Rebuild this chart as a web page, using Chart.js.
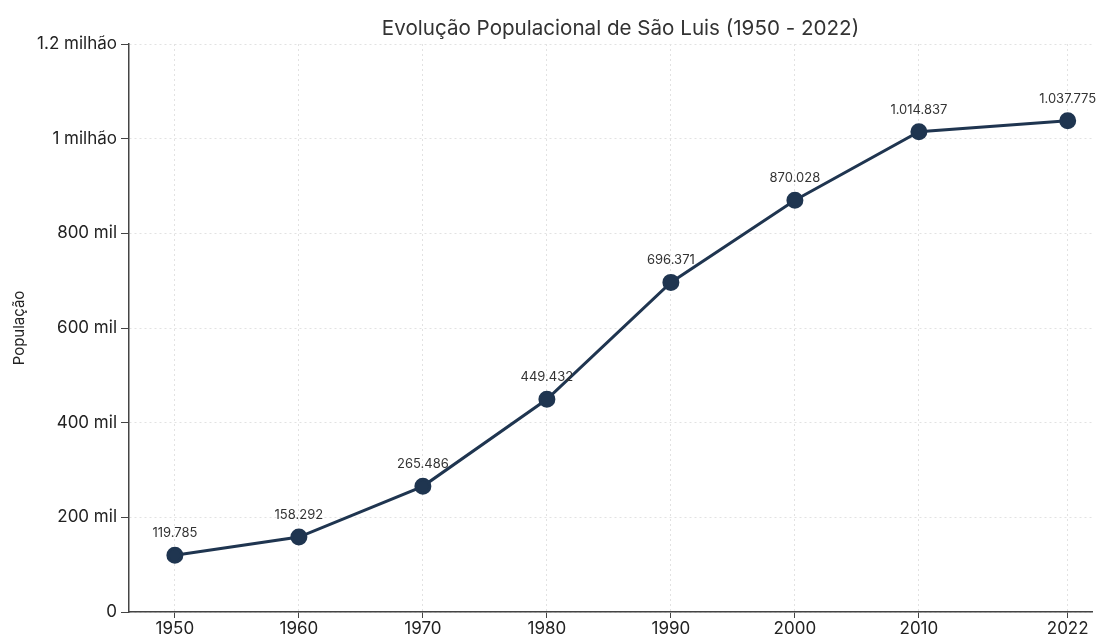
<!DOCTYPE html>
<html>
<head>
<meta charset="utf-8">
<script src="https://cdn.jsdelivr.net/npm/chart.js@4"></script>
<style>
  html, body { margin: 0; padding: 0; background: #fff; overflow: hidden; }
</style>
</head>
<body>
<canvas id="pop" width="1102" height="636"></canvas>
<script>
const years = [1950, 1960, 1970, 1980, 1990, 2000, 2010, 2022];
const population = [119785, 158292, 265486, 449432, 696371, 870028, 1014837, 1037775];
const yTicks = [0, 200000, 400000, 600000, 800000, 1000000, 1200000];
const yTickLabels = ['0', '200 mil', '400 mil', '600 mil', '800 mil', '1 milhão', '1.2 milhão'];
const titleText = 'Evolução Populacional de São Luis (1950 - 2022)';

const fontFamily = 'Inter, "Noto Sans", sans-serif';

function fmt(n) {
  return String(n).replace(/\B(?=(\d{3})+(?!\d))/g, '.');
}

// value labels above each point + title centred over the plot area
const pointLabels = {
  id: 'pointLabels',
  afterDatasetsDraw(chart) {
    const ctx = chart.ctx;
    const meta = chart.getDatasetMeta(0);
    const area = chart.chartArea;
    ctx.save();
    ctx.font = '13px ' + fontFamily;
    ctx.fillStyle = '#333';
    ctx.textAlign = 'center';
    ctx.textBaseline = 'middle';
    meta.data.forEach((pt, i) => {
      ctx.fillText(fmt(population[i]), pt.x, pt.y - 22);
    });
    ctx.font = '20.6px ' + fontFamily;
    ctx.fillStyle = '#333';
    ctx.fillText(titleText, (area.left + area.right) / 2 + 10, 29);
    ctx.restore();
  }
};

new Chart(document.getElementById('pop'), {
  type: 'line',
  data: {
    datasets: [{
      label: 'População',
      data: years.map((y, i) => ({ x: y, y: population[i] })),
      borderColor: '#1f3550',
      backgroundColor: '#1f3550',
      borderWidth: 3,
      pointRadius: 7,
      pointHoverRadius: 7,
      tension: 0
    }]
  },
  options: {
    responsive: false,
    animation: false,
    layout: { padding: { top: 44, right: 0, bottom: 0, left: 0 } },
    plugins: {
      legend: { display: false },
      tooltip: { enabled: false },
      title: { display: false }
    },
    scales: {
      x: {
        type: 'linear',
        min: 1946.3,
        max: 2023.96,
        afterBuildTicks: s => { s.ticks = years.map(v => ({ value: v })); },
        afterFit: s => { s.height = 24; },
        ticks: {
          callback: v => String(v),
          color: '#222',
          font: { family: fontFamily, size: 17 },
          padding: 1,
          maxRotation: 0
        },
        grid: { color: '#e2e2e2', tickColor: '#444', tickLength: 6, tickBorderDash: [] },
        border: { color: '#444', width: 1.5, dash: [2, 3] }
      },
      y: {
        min: 0,
        max: 1200000,
        afterBuildTicks: s => { s.ticks = yTicks.map(v => ({ value: v })); },
        afterFit: s => { s.width = 129; },
        title: {
          display: true,
          text: 'População',
          color: '#222',
          font: { family: fontFamily, size: 15 },
          padding: { top: 10, bottom: 2 }
        },
        ticks: {
          callback: v => yTickLabels[yTicks.indexOf(v)],
          color: '#222',
          font: { family: fontFamily, size: 17 },
          padding: 4
        },
        grid: { color: '#e2e2e2', tickColor: '#444', tickLength: 8, tickBorderDash: [] },
        border: { color: '#444', width: 1.5, dash: [2, 3] }
      }
    }
  },
  plugins: [pointLabels]
});
</script>
</body>
</html>
